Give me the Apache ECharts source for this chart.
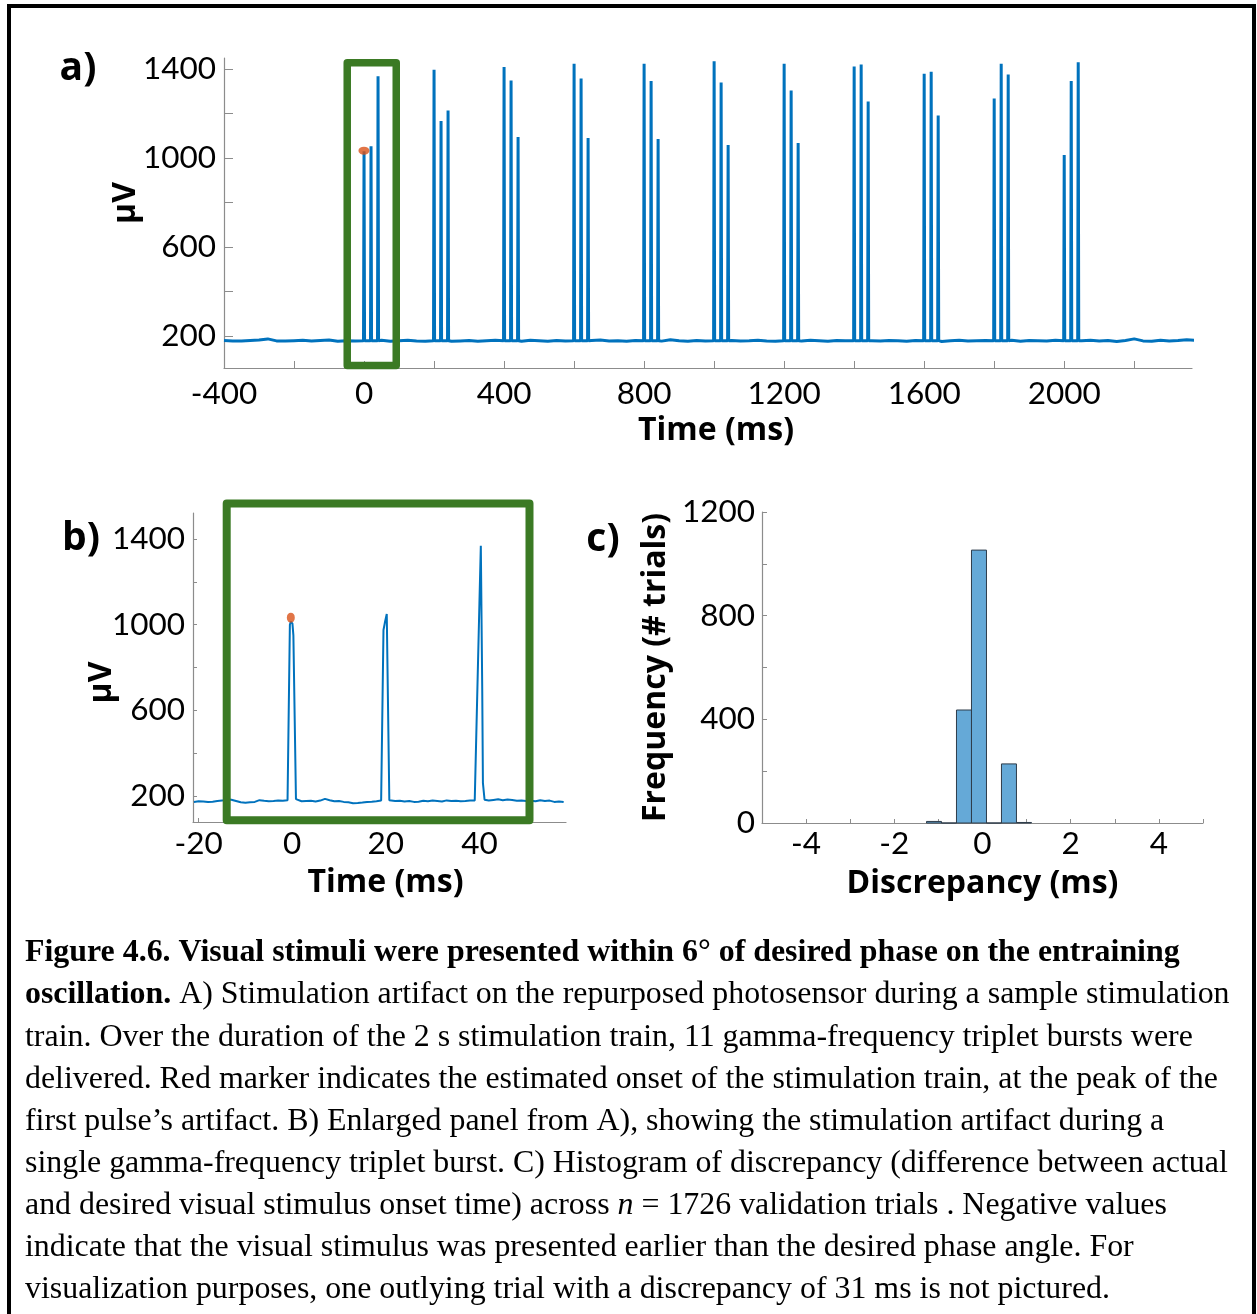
<!DOCTYPE html>
<html>
<head>
<meta charset="utf-8">
<script src="https://cdn.jsdelivr.net/npm/echarts@6/dist/echarts.min.js"></script>
<style>
  html, body { margin: 0; padding: 0; background: #fff; }
  #chart { width: 1257px; height: 1314px; }
</style>
</head>
<body>
<div id="chart"></div>
<script>
// ---- panel a: 2 s train, 11 triplet bursts (one every 200 ms, pulses 20 ms apart)
const burstStarts = [0, 200, 400, 600, 800, 1000, 1200, 1400, 1600, 1800, 2000];
const pulseOffsets = [0, 20, 40];
const burstPeaks = [
  [1030, 1053, 1368],
  [1397, 1167, 1214],
  [1410, 1349, 1095],
  [1424, 1358, 1090],
  [1424, 1346, 1086],
  [1435, 1340, 1059],
  [1424, 1304, 1068],
  [1412, 1421, 1254],
  [1379, 1388, 1191],
  [1268, 1424, 1376],
  [1013, 1346, 1431]
];
const pulseFlankA = 178;
const baseStartA = -400;
const baseStepA = 25;
const baselineA = [
  179, 177, 176, 179, 181, 186, 177, 176,
  178, 180, 176, 179, 181, 175, 178, 177,
  178, 176, 180, 175, 178, 180, 177, 175,
  179, 178, 175, 177, 179, 175, 178, 180,
  178, 177, 175, 180, 178, 175, 179, 177,
  178, 176, 179, 181, 177, 178, 175, 179,
  178, 180, 176, 182, 178, 175, 179, 177,
  178, 175, 179, 177, 178, 180, 176, 175,
  178, 179, 176, 180, 178, 175, 179, 178,
  177, 180, 178, 176, 179, 178, 175, 179,
  178, 177, 174, 178, 180, 176, 178, 179,
  177, 178, 180, 175, 179, 178, 176, 180,
  178, 175, 178, 180, 177, 179, 174, 179,
  186, 177, 175, 180, 177, 179, 182, 180
];

// ---- panel b: first burst enlarged
const baseStartB = -21;
const baseStepB = 1;
const baselineB = [
  172, 175, 174, 171, 173, 176, 178, 184, 182, 176,
  170, 168, 170, 172, 180, 177, 175, 176, 178, 177,
  180, 182, 178, 175, 176, 177, 174, 178, 186, 180,
  175, 176, 172, 170, 166, 167, 169, 172, 173, 175,
  178, 180, 178, 176, 177, 174, 176, 172, 173, 177,
  175, 178, 176, 174, 179, 176, 177, 175, 176, 178,
  179, 180, 180, 178, 181, 184, 180, 183, 181, 177,
  178, 176, 177, 175, 180, 176, 178, 172, 174, 171
];
const pulsesB = [
  [[-0.85, 180], [-0.5, 1000], [-0.3, 1015], [0.05, 1005], [0.25, 950], [0.8, 185]],
  [[19.1, 180], [19.5, 975], [19.8, 1010], [20.2, 1050], [20.75, 180]],
  [[39.3, 180], [40.0, 1100], [40.3, 1369], [40.6, 700], [40.75, 260], [41.1, 182]]
];
const onsetMarker = [-0.3, 1033];

// ---- panel c: histogram of discrepancy (ms)
const histEdges = [-1.27, -0.93, -0.59, -0.25, 0.09, 0.43, 0.77, 1.11];
const histCounts = [6, 0, 436, 1053, 0, 228, 2];

// ---- axis ticks / labels
const ticksAx = [-400, -200, 0, 200, 400, 600, 800, 1000, 1200, 1400, 1600, 1800, 2000, 2200];
const labelsAx = [-400, 0, 400, 800, 1200, 1600, 2000];
const ticksAy = [200, 400, 600, 800, 1000, 1200, 1400];
const labelsAy = [200, 600, 1000, 1400];
const ticksBx = [-20, -10, 0, 10, 20, 30, 40, 50];
const labelsBx = [-20, 0, 20, 40];
const ticksBy = [200, 400, 600, 800, 1000, 1200, 1400];
const labelsBy = [200, 600, 1000, 1400];
const ticksCx = [-5, -4, -3, -2, -1, 0, 1, 2, 3, 4, 5];
const labelsCx = [-4, -2, 0, 2, 4];
const ticksCy = [0, 200, 400, 600, 800, 1000, 1200];
const labelsCy = [0, 400, 800, 1200];

// zoom boxes (data units: [t0, vTop], [t1, vBottom])
const boxA = [[-48, 1429], [92, 66]];
const boxB = [[-14, 1566], [50.7, 86]];

const captionLines = [
  '{b|Figure 4.6. Visual stimuli were presented within 6° of desired phase on the entraining}',
  '{b|oscillation.} A) Stimulation artifact on the repurposed photosensor during a sample stimulation',
  'train. Over the duration of the 2 s stimulation train, 11 gamma-frequency triplet bursts were',
  'delivered. Red marker indicates the estimated onset of the stimulation train, at the peak of the',
  'first pulse’s artifact. B) Enlarged panel from A), showing the stimulation artifact during a',
  'single gamma-frequency triplet burst. C) Histogram of discrepancy (difference between actual',
  'and desired visual stimulus onset time) across {i|n} = 1726 validation trials . Negative values',
  'indicate that the visual stimulus was presented earlier than the desired phase angle. For',
  'visualization purposes, one outlying trial with a discrepancy of 31 ms is not pictured.'
];

const traceBlue = '#0072BD';
const markerRed = '#D95319';
const boxGreen = '#3b7a24';
const axisGray = '#8c8c8c';

function buildTrace(baseStart, baseStep, baseVals, pulses) {
  const spans = pulses.map(p => [p[0][0], p[p.length - 1][0]]);
  const pts = [];
  baseVals.forEach((v, i) => {
    const t = baseStart + i * baseStep;
    if (!spans.some(s => t >= s[0] && t <= s[1])) pts.push([t, v]);
  });
  pulses.forEach(p => p.forEach(q => pts.push(q)));
  pts.sort((a, b) => a[0] - b[0]);
  return pts;
}

let pulsesA = [];
burstStarts.forEach((b, k) => {
  pulseOffsets.forEach((o, j) => {
    const t = b + o;
    pulsesA.push([[t - 1.5, pulseFlankA], [t, burstPeaks[k][j]], [t + 1.5, pulseFlankA]]);
  });
});
const traceA = buildTrace(baseStartA, baseStepA, baselineA, pulsesA);
const traceB = buildTrace(baseStartB, baseStepB, baselineB, pulsesB);
const histData = histCounts.map((c, i) => [histEdges[i], histEdges[i + 1], c]);

const tickFont = {fontFamily: 'Lato', fontSize: 31.5, color: '#000'};

function axis(gridIndex, min, max, ticks, labels, opts) {
  return Object.assign({
    gridIndex: gridIndex,
    type: 'value',
    min: min,
    max: max,
    axisLine: {show: true, onZero: false, lineStyle: {color: axisGray, width: 1.2}},
    axisTick: {show: true, inside: true, length: opts.tickLen, customValues: ticks,
      lineStyle: {color: axisGray, width: 1}},
    axisLabel: Object.assign({
      customValues: labels, margin: opts.margin,
      formatter: function (v) { return String(v); }
    }, tickFont),
    splitLine: {show: false},
    nameLocation: 'middle',
    nameGap: opts.nameGap,
    nameMoveOverlap: false,
    nameTextStyle: {
      fontFamily: 'Open Sans', fontWeight: 'bold', fontSize: 32, color: '#000',
      padding: opts.namePad || 0
    }
  }, opts.extra || {});
}

const chart = echarts.init(document.getElementById('chart'));

const option = {
  animation: false,
  backgroundColor: '#fff',
  textStyle: {fontFamily: 'Lato'},
  grid: [
    {left: 224, top: 58, width: 968, height: 310, outerBoundsMode: 'none'},
    {left: 193, top: 513, width: 373, height: 309, outerBoundsMode: 'none'},
    {left: 762, top: 512, width: 441, height: 311, outerBoundsMode: 'none'}
  ],
  xAxis: [
    axis(0, -400, 2365, ticksAx, labelsAx, {tickLen: 7, margin: 10, nameGap: 47,
      namePad: [0, 0, 0, 16], extra: {name: 'Time (ms)'}}),
    axis(1, -21.2, 58.5, ticksBx, labelsBx, {tickLen: 4, margin: 6, nameGap: 45,
      namePad: [0, 0, 0, 12], extra: {name: 'Time (ms)'}}),
    axis(2, -5, 5, ticksCx, labelsCx, {tickLen: 4, margin: 5, nameGap: 45,
      extra: {name: 'Discrepancy (ms)'}})
  ],
  yAxis: [
    axis(0, 55, 1450, ticksAy, labelsAy, {tickLen: 9, margin: 8, nameGap: 82,
      namePad: [0, 0, 0, 20], extra: {name: 'µV'}}),
    axis(1, 78, 1522, ticksBy, labelsBy, {tickLen: 4, margin: 8, nameGap: 75,
      namePad: [0, 30, 0, 0], extra: {name: 'µV'}}),
    axis(2, 0, 1200, ticksCy, labelsCy, {tickLen: 5, margin: 7, nameGap: 90,
      extra: {name: 'Frequency (# trials)'}})
  ],
  series: [
    {
      type: 'line', xAxisIndex: 0, yAxisIndex: 0, data: traceA,
      showSymbol: false, symbol: 'none',
      lineStyle: {color: traceBlue, width: 3, join: 'bevel'}
    },
    {
      type: 'scatter', xAxisIndex: 0, yAxisIndex: 0, data: [onsetMarker],
      symbol: 'circle', symbolSize: [11, 8], itemStyle: {color: markerRed}, z: 5
    },
    {
      type: 'line', xAxisIndex: 1, yAxisIndex: 1, data: traceB,
      showSymbol: false, symbol: 'none',
      lineStyle: {color: traceBlue, width: 2}
    },
    {
      type: 'scatter', xAxisIndex: 1, yAxisIndex: 1, data: [onsetMarker],
      symbol: 'circle', symbolSize: [8, 10], itemStyle: {color: markerRed}, z: 5
    },
    {
      type: 'custom', xAxisIndex: 2, yAxisIndex: 2, data: histData,
      renderItem: function (params, api) {
        const p0 = api.coord([api.value(0), api.value(2)]);
        const p1 = api.coord([api.value(1), 0]);
        return {
          type: 'rect',
          shape: {x: p0[0], y: p0[1], width: p1[0] - p0[0], height: p1[1] - p0[1]},
          style: {fill: '#65A9D7', stroke: '#2e3c4a', lineWidth: 1}
        };
      }
    }
  ]
};
chart.setOption(option);

function boxRect(gridIndex, box) {
  const a = chart.convertToPixel({gridIndex: gridIndex}, box[0]);
  const b = chart.convertToPixel({gridIndex: gridIndex}, box[1]);
  return {x: a[0], y: a[1], width: b[0] - a[0], height: b[1] - a[1]};
}

function panelLabel(id, text, x, y) {
  return {type: 'text', id: id, z: 100, x: x, y: y,
    style: {text: text, fontFamily: 'Open Sans', fontWeight: 'bold', fontSize: 39, fill: '#000',
      textAlign: 'center', textVerticalAlign: 'middle'}};
}

const graphics = [
  {type: 'rect', id: 'frame', z: 100, shape: {x: 9, y: 6, width: 1245, height: 1330},
    style: {fill: 'none', stroke: '#000', lineWidth: 4}},
  {type: 'rect', id: 'boxA', z: 100, shape: boxRect(0, boxA),
    style: {fill: 'none', stroke: boxGreen, lineWidth: 7.5, lineJoin: 'round'}},
  {type: 'rect', id: 'boxB', z: 100, shape: boxRect(1, boxB),
    style: {fill: 'none', stroke: boxGreen, lineWidth: 8, lineJoin: 'round'}},
  panelLabel('labA', 'a)', 78, 69),
  panelLabel('labB', 'b)', 81, 539),
  panelLabel('labC', 'c)', 603, 540)
];

captionLines.forEach((line, i) => {
  graphics.push({
    type: 'text', id: 'cap' + i, z: 100, x: 25, y: 953 + i * 42.1,
    style: {
      text: line,
      fontFamily: 'Liberation Serif', fontSize: 31.9, fill: '#000',
      textAlign: 'left', textVerticalAlign: 'middle',
      rich: {
        b: {fontFamily: 'Liberation Serif', fontSize: 31.9, fontWeight: 'bold', fill: '#000'},
        i: {fontFamily: 'Liberation Serif', fontSize: 31.9, fontStyle: 'italic', fill: '#000'}
      }
    }
  });
});

chart.setOption({graphic: graphics});
</script>
</body>
</html>
